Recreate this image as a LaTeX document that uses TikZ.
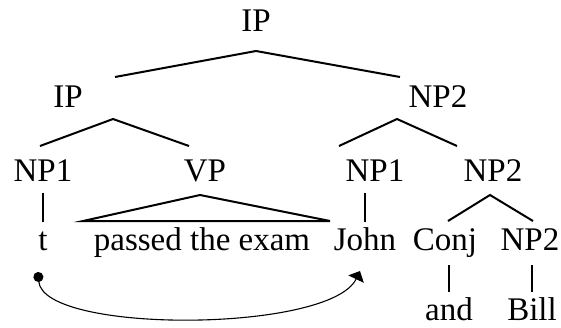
\documentclass[tikz,border=0pt]{standalone}
\usepackage{fontspec}
\setmainfont{Liberation Serif}
\usetikzlibrary{arrows.meta,calc}

\begin{document}
\begin{tikzpicture}[x=1pt,y=1pt]
\tikzstyle{every node}+=[inner sep=0pt]
\tikzstyle{cat}=[anchor=base,font=\fontsize{33}{40}\selectfont]
\tikzstyle{branch}=[black,line width=2pt]
\useasboundingbox (0,0) rectangle (561,-327);
% categories
\node[cat] (ip) at (256,-31) {IP};
\node[cat] (ipl) at (68,-107) {IP};
\node[cat] (nps) at (438,-107) {NP2};
\node[cat] (npa) at (43,-181) {NP1};
\node[cat] (vp) at (205,-181) {VP};
\node[cat] (npb) at (375,-181) {NP1};
\node[cat] (npc) at (493,-181) {NP2};
\node[cat] (t) at (43,-250) {t};
\node[cat] (exam) at (202,-250) {passed the exam};
\node[cat] (john) at (365,-250) {John};
\node[cat] (conj) at (445,-250) {Conj};
\node[cat] (npd) at (530,-250) {NP2};
\node[cat] (and) at (449,-320) {and};
\node[cat] (bill) at (532,-320) {Bill};
% branch points
\coordinate (ip-a) at (256,-51);
\coordinate (ipl-up) at (115,-77);
\coordinate (nps-up) at (400,-77);
\coordinate (ipl-a) at (113,-119);
\coordinate (npa-up) at (40,-146);
\coordinate (vp-up) at (189,-146);
\coordinate (nps-a) at (397,-119);
\coordinate (npb-up) at (339,-146);
\coordinate (npc-up) at (457,-146);
\coordinate (vp-a) at (200,-195);
\coordinate (vp-l) at (83,-221);
\coordinate (vp-r) at (330,-221);
\coordinate (npc-a) at (490,-195);
\coordinate (conj-up) at (448,-221);
\coordinate (npd-up) at (533,-221);
% tree
\draw[branch] (ipl-up) -- (ip-a) -- (nps-up);
\draw[branch] (npa-up) -- (ipl-a) -- (vp-up);
\draw[branch] (npb-up) -- (nps-a) -- (npc-up);
\draw[branch] ([yshift=-12pt]npa.base) -- ([yshift=28pt]t.base);
\draw[branch] (vp-a) -- (vp-l) -- (vp-r) -- cycle;
\draw[branch] ($(john.base |- npb.base)+(0,-12)$) -- ([yshift=28pt]john.base);
\draw[branch] (conj-up) -- (npc-a) -- (npd-up);
\draw[branch] ($(and.base |- conj.base)+(0,-15)$) -- ([yshift=28pt]and.base);
\draw[branch] ($(bill.base |- npd.base)+(0,-15)$) -- ([yshift=28pt]bill.base);
% movement
\coordinate (from) at ($(t.base)+(-5,-22)$);
\coordinate (to) at ($(john.base)+(-5,-21)$);
\draw[black,line width=1.1pt,{Circle[length=10pt]}-{Triangle[length=9pt,width=17pt]}]
  (from) .. controls ($(from)+(5,-62)$) and ($(to)+(-30,-62)$) .. (to);
\end{tikzpicture}
\end{document}
